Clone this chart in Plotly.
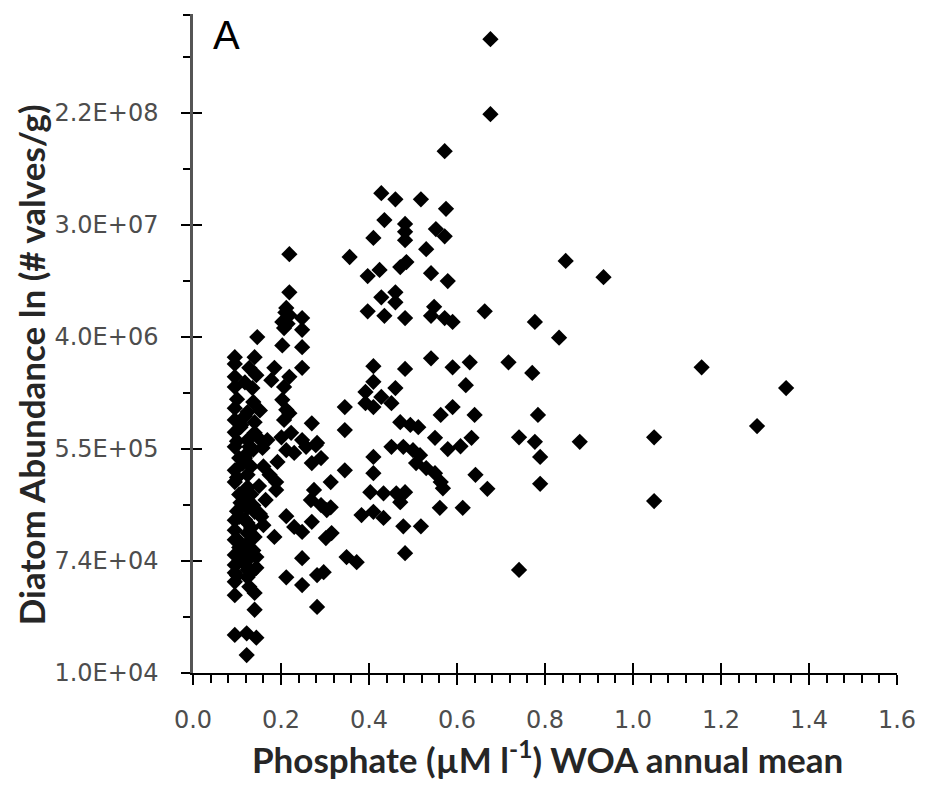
import plotly.graph_objects as go

# Phosphate (uM/l) WOA annual mean
phosphate = [
    0.676, 0.676, 0.572, 0.847, 0.933, 0.777, 0.832, 0.717, 0.771, 1.156, 1.348,
    0.784, 0.741, 0.777, 0.879, 1.048, 1.282, 0.789, 0.789, 1.048, 0.741,
    # middle cluster upper
    0.428, 0.460, 0.518, 0.575, 0.435, 0.482, 0.482, 0.482, 0.552, 0.572, 0.410,
    0.530, 0.356, 0.397, 0.424, 0.471, 0.485, 0.541, 0.579, 0.428, 0.460, 0.460,
    0.397, 0.435, 0.482, 0.548, 0.541, 0.572, 0.590, 0.663,
    # middle cluster mid
    0.541, 0.410, 0.482, 0.590, 0.629, 0.410, 0.620, 0.392, 0.460, 0.428, 0.392,
    0.410, 0.451, 0.345, 0.345, 0.471, 0.494, 0.512, 0.563, 0.590, 0.640,
    # middle cluster lower
    0.451, 0.478, 0.500, 0.516, 0.507, 0.530, 0.550, 0.563, 0.568, 0.550, 0.579,
    0.608, 0.633, 0.642, 0.669, 0.410, 0.410, 0.345, 0.313, 0.403, 0.433, 0.462,
    0.482, 0.471, 0.561, 0.613, 0.383, 0.410, 0.433, 0.478, 0.518, 0.313, 0.482,
    0.349, 0.372,
    # left-middle
    0.219, 0.219, 0.212, 0.219, 0.203, 0.207, 0.248, 0.248, 0.146, 0.203, 0.248,
    0.248, 0.185, 0.178, 0.219, 0.207, 0.203, 0.212, 0.219, 0.207, 0.270, 0.169,
    0.201, 0.223, 0.248, 0.282, 0.212, 0.230, 0.257, 0.279, 0.192, 0.270, 0.291,
    0.174, 0.189, 0.189, 0.275, 0.268, 0.291, 0.304, 0.212, 0.230, 0.248, 0.270,
    0.185, 0.302, 0.315, 0.248, 0.212, 0.248, 0.282, 0.297, 0.282, 0.155, 0.158,
    0.210, 0.215,
    # dense column
    0.095, 0.095, 0.140, 0.128, 0.095, 0.144, 0.095, 0.135, 0.095, 0.124, 0.095,
    0.110, 0.140, 0.095, 0.140, 0.124, 0.095, 0.124, 0.095, 0.095, 0.124, 0.124,
    0.124, 0.124, 0.140, 0.095, 0.095, 0.095, 0.124, 0.124, 0.124, 0.140, 0.095,
    0.095, 0.095, 0.095, 0.124, 0.124, 0.124, 0.144, 0.144, 0.095, 0.140, 0.140,
    0.095, 0.122, 0.144, 0.122,
    0.105, 0.105, 0.105, 0.105, 0.105, 0.113, 0.113, 0.113, 0.132, 0.132, 0.132,
    0.132, 0.150, 0.150, 0.160, 0.165, 0.160,
    0.100, 0.100, 0.100, 0.100, 0.100, 0.100, 0.118, 0.118, 0.118, 0.118, 0.118,
    0.118, 0.137, 0.137, 0.137, 0.137, 0.152, 0.152, 0.108, 0.108, 0.128, 0.128,
]

# Diatom abundance, natural log of (# valves/g)
ln_abundance = [
    20.53, 19.19, 18.53, 16.57, 16.28, 15.48, 15.20, 14.76, 14.57, 14.67, 14.30,
    13.82, 13.42, 13.34, 13.34, 13.42, 13.62, 13.07, 12.59, 12.28, 11.05,
    # middle cluster upper
    17.78, 17.67, 17.67, 17.50, 17.30, 17.23, 17.09, 16.94, 17.14, 17.01, 16.98,
    16.78, 16.64, 16.30, 16.41, 16.46, 16.55, 16.35, 16.21, 15.92, 16.01, 15.83,
    15.67, 15.59, 15.55, 15.75, 15.59, 15.55, 15.48, 15.67,
    # middle cluster mid
    14.83, 14.69, 14.64, 14.67, 14.76, 14.41, 14.35, 14.23, 14.30, 14.14, 14.03,
    13.96, 14.03, 13.96, 13.55, 13.69, 13.64, 13.60, 13.82, 13.96, 13.82,
    # middle cluster lower
    13.25, 13.25, 13.19, 13.10, 12.96, 12.87, 12.78, 12.62, 12.51, 13.41, 13.21,
    13.26, 13.41, 12.75, 12.50, 13.07, 12.78, 12.83, 12.62, 12.44, 12.42, 12.42,
    12.44, 12.26, 12.16, 12.16, 12.03, 12.09, 11.98, 11.83, 11.83, 12.17, 11.35,
    11.28, 11.19,
    # left-middle
    16.69, 16.01, 15.73, 15.60, 15.48, 15.37, 15.55, 15.34, 15.21, 15.06, 15.03,
    14.66, 14.66, 14.44, 14.50, 14.32, 14.09, 13.91, 13.85, 13.73, 13.67, 13.37,
    13.42, 13.50, 13.37, 13.32, 13.19, 13.14, 13.25, 13.28, 12.98, 12.96, 13.05,
    12.75, 12.62, 12.48, 12.48, 12.30, 12.21, 12.12, 12.01, 11.82, 11.73, 11.91,
    11.64, 11.62, 11.71, 11.26, 10.92, 10.78, 10.96, 11.01, 10.39, 12.00, 13.23,
    15.65, 15.45,
    # dense column
    14.85, 14.73, 14.85, 14.66, 14.50, 14.53, 14.32, 14.30, 13.94, 13.87, 13.73,
    13.64, 13.69, 13.51, 13.50, 13.37, 13.25, 13.14, 12.83, 12.62, 12.75, 12.53,
    12.30, 12.16, 12.09, 11.94, 11.76, 11.59, 11.89, 11.71, 11.53, 11.64, 11.32,
    11.14, 11.00, 10.84, 11.23, 11.05, 10.92, 11.28, 11.09, 10.60, 10.64, 10.34,
    9.89, 9.92, 9.84, 9.53,
    13.05, 12.40, 12.00, 11.45, 11.20, 12.95, 12.20, 11.35, 12.90, 12.40, 11.80,
    11.00, 12.55, 13.40, 12.90, 12.30, 11.85,
    14.10, 13.35, 12.70, 12.10, 11.60, 10.95, 14.40, 13.80, 13.05, 12.45, 11.95,
    11.15, 14.05, 13.20, 12.20, 11.40, 13.90, 12.05, 13.60, 12.25, 13.25, 10.75,
]

x_tick_vals = [0.0, 0.2, 0.4, 0.6, 0.8, 1.0, 1.2, 1.4, 1.6]
x_tick_text = ["0.0", "0.2", "0.4", "0.6", "0.8", "1.0", "1.2", "1.4", "1.6"]
y_tick_vals = [9.2103, 11.2103, 13.2103, 15.2103, 17.2103, 19.2103]
y_tick_text = ["1.0E+04", "7.4E+04", "5.5E+05", "4.0E+06", "3.0E+07", "2.2E+08"]

X_RANGE = [0, 1.6]
Y_RANGE = [9.2103, 20.98]

x_minor = [round(i * 0.04, 2) for i in range(41) if i % 5 != 0]
y_minor = [v + 1 for v in y_tick_vals] + [20.96]

fig = go.Figure()
fig.add_trace(go.Scatter(
    x=phosphate, y=ln_abundance, mode="markers",
    marker=dict(symbol="diamond", size=12.5, color="black", line=dict(width=0)),
    showlegend=False,
))
# invisible trace to hold the overlay axes that give crossing tick marks
fig.add_trace(go.Scatter(x=[None], y=[None], xaxis="x2", yaxis="y2",
                         showlegend=False, hoverinfo="skip"))

tick_font = dict(family="DejaVu Sans", size=24, color="#4d4d4d")

fig.update_layout(
    width=928, height=787, autosize=False,
    margin=dict(l=193, r=25, t=14, b=114, pad=0),
    paper_bgcolor="white", plot_bgcolor="white",
    xaxis=dict(
        range=X_RANGE, tickmode="array", tickvals=x_tick_vals, ticktext=x_tick_text,
        ticks="outside", ticklen=10, tickwidth=2, tickcolor="black",
        showline=True, linecolor="black", linewidth=2,
        showgrid=False, zeroline=False, tickfont=tick_font, ticklabelstandoff=14,
        minor=dict(ticks="outside", ticklen=8, tickwidth=1.5, tickcolor="black",
                   tickmode="array", tickvals=x_minor, showgrid=False),
    ),
    yaxis=dict(
        range=Y_RANGE, tickmode="array", tickvals=y_tick_vals, ticktext=y_tick_text,
        ticks="outside", ticklen=9, tickwidth=2, tickcolor="black",
        showline=True, linecolor="#555555", linewidth=2.5,
        showgrid=False, zeroline=False, tickfont=tick_font, ticklabelstandoff=18,
        minor=dict(ticks="outside", ticklen=7, tickwidth=1.5, tickcolor="black",
                   tickmode="array", tickvals=y_minor, showgrid=False),
    ),
    xaxis2=dict(
        overlaying="x", anchor="y", side="bottom", range=X_RANGE,
        tickmode="array", tickvals=x_tick_vals, ticks="inside", ticklen=10,
        tickwidth=2, tickcolor="black", showticklabels=False, showline=False,
        showgrid=False, zeroline=False,
    ),
    yaxis2=dict(
        overlaying="y", anchor="x", side="left", range=Y_RANGE,
        tickmode="array", tickvals=y_tick_vals, ticks="inside", ticklen=9,
        tickwidth=2, tickcolor="black", showticklabels=False, showline=False,
        showgrid=False, zeroline=False,
    ),
    annotations=[
        dict(text="Phosphate (µM l<sup>-1</sup>) WOA annual mean",
             xref="paper", yref="paper", x=0.503, y=-0.128,
             xanchor="center", yanchor="middle", showarrow=False,
             font=dict(family="Lato", size=35, color="#262626", weight="bold")),
        dict(text="Diatom Abundance ln (# valves/g)",
             xref="paper", yref="paper", x=-0.23, y=0.467, textangle=-90,
             xanchor="center", yanchor="middle", showarrow=False,
             font=dict(family="Lato", size=35, color="#262626", weight="bold")),
        dict(text="A", xref="paper", yref="paper", x=0.026, y=0.968,
             xanchor="left", yanchor="middle", showarrow=False,
             font=dict(family="Liberation Sans", size=40, color="black")),
    ],
)

fig.write_html("out.html")
